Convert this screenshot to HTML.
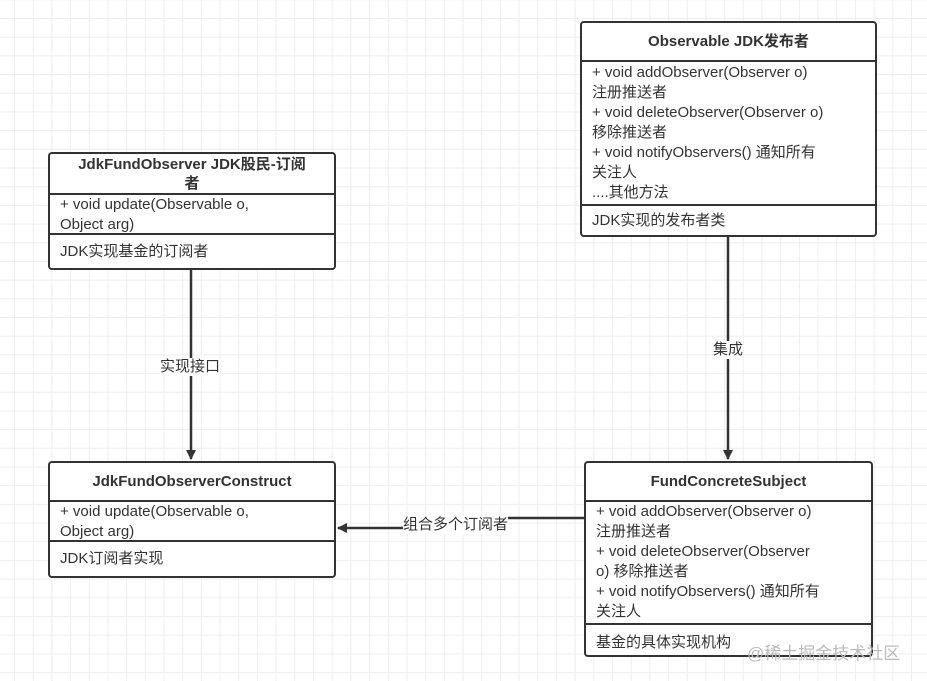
<!DOCTYPE html>
<html><head><meta charset="utf-8"><style>
body{margin:0;width:927px;height:681px;position:relative;overflow:hidden;background:#fff;
background-image:linear-gradient(#eeeeee 1px,transparent 1px),linear-gradient(90deg,#eeeeee 1px,transparent 1px);
background-size:18.7px 18.7px;background-position:14px 18px;
font-family:"Liberation Sans","Noto Sans CJK SC",sans-serif;color:#333;}
.box{position:absolute;border:2px solid #333;border-radius:4px;background:#fff;box-sizing:border-box;font-size:15px;line-height:20px}
.h{font-weight:bold;text-align:center;border-bottom:2px solid #333;box-sizing:border-box;display:flex;align-items:center;justify-content:center;line-height:19px}
.s{padding:0 10px;box-sizing:border-box;border-bottom:2px solid #333;overflow:hidden}
.s:last-child{border-bottom:none}
.lbl{position:absolute;font-size:15px;background:#fff;line-height:18px}
</style></head><body>
<svg width="927" height="681" style="position:absolute;left:0;top:0">
<defs><marker id="a" markerWidth="10" markerHeight="10" refX="9" refY="5" orient="auto" markerUnits="userSpaceOnUse"><path d="M0,0 L10,5 L0,10 Z" fill="#333"/></marker></defs>
<g stroke="#333" stroke-width="2.5" fill="none">
<line x1="191" y1="269" x2="191" y2="459" marker-end="url(#a)"/>
<line x1="728" y1="236" x2="728" y2="459" marker-end="url(#a)"/>
<path d="M585,518 H470 V528 H338" marker-end="url(#a)"/>
</g></svg>
<div class="lbl" style="left:160px;top:358px">实现接口</div>
<div class="lbl" style="left:713px;top:341px">集成</div>
<div class="lbl" style="left:403px;top:516px">组合多个订阅者</div>

<div class="box" style="left:580px;top:21px;width:297px;height:216px">
<div class="h" style="height:39px">Observable JDK发布者</div>
<div class="s" style="height:144px;padding-top:1px">+ void addObserver(Observer o)<br>注册推送者<br>+ void deleteObserver(Observer o)<br>移除推送者<br>+ void notifyObservers() 通知所有<br>关注人<br>....其他方法</div>
<div class="s" style="padding-top:5px">JDK实现的发布者类</div>
</div>

<div class="box" style="left:48px;top:152px;width:288px;height:118px">
<div class="h" style="height:41px">JdkFundObserver JDK股民-订阅<br>者</div>
<div class="s" style="height:40px">+ void update(Observable o,<br>Object arg)</div>
<div class="s" style="padding-top:7px">JDK实现基金的订阅者</div>
</div>

<div class="box" style="left:48px;top:461px;width:288px;height:117px">
<div class="h" style="height:39px">JdkFundObserverConstruct</div>
<div class="s" style="height:40px">+ void update(Observable o,<br>Object arg)</div>
<div class="s" style="padding-top:7px">JDK订阅者实现</div>
</div>

<div class="box" style="left:584px;top:461px;width:289px;height:196px">
<div class="h" style="height:39px">FundConcreteSubject</div>
<div class="s" style="height:123px">+ void addObserver(Observer o)<br>注册推送者<br>+ void deleteObserver(Observer<br>o) 移除推送者<br>+ void notifyObservers() 通知所有<br>关注人</div>
<div class="s" style="padding-top:8px">基金的具体实现机构</div>
</div>
<div style="position:absolute;left:747px;top:639px;font-size:17px;color:#bbb">@稀土掘金技术社区</div>
</body></html>
